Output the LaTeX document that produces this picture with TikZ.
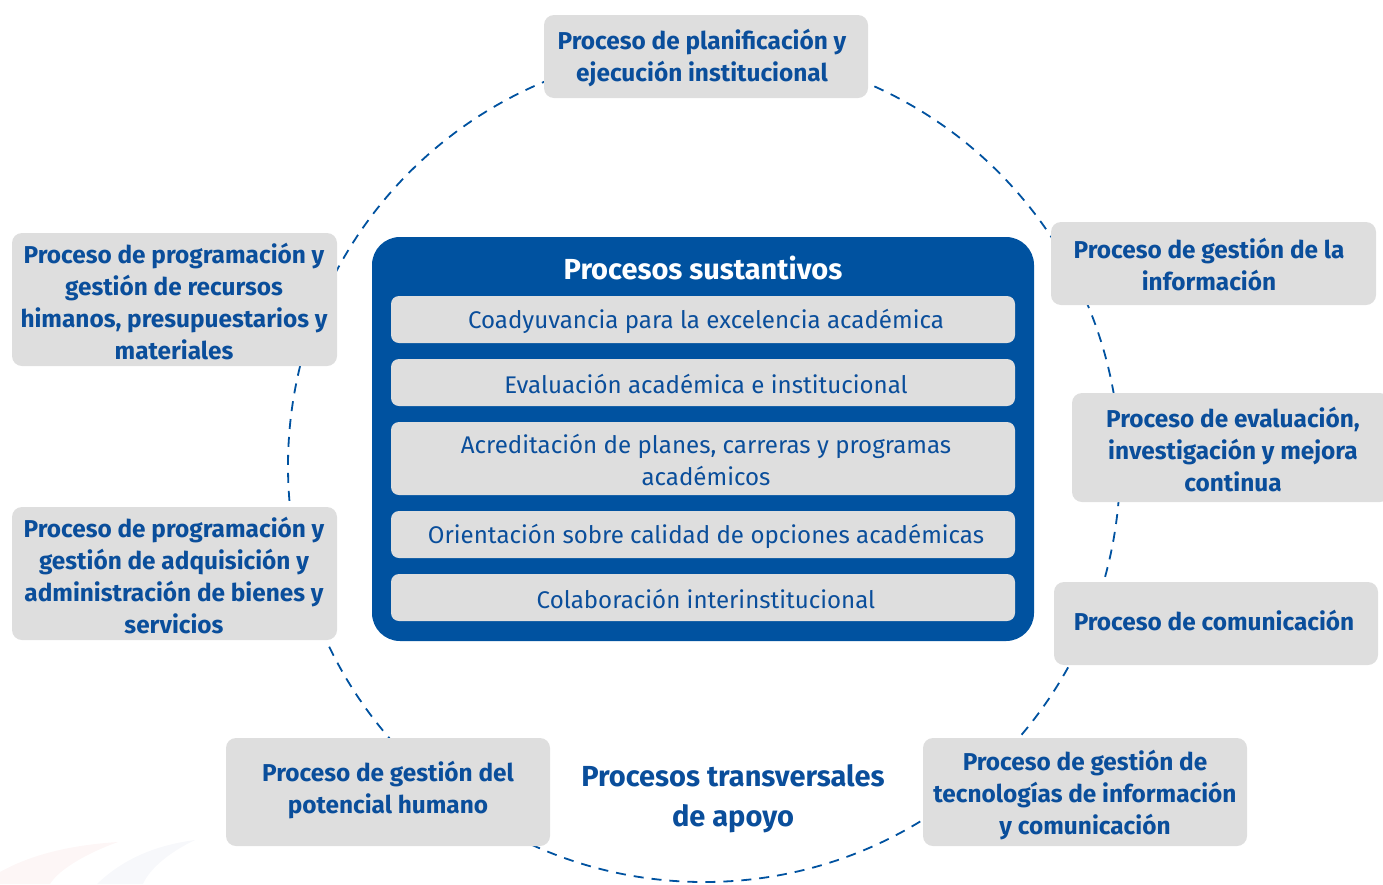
\documentclass[tikz,border=0pt]{standalone}
\usepackage{fontspec}
\setmainfont{Fira Sans}
\definecolor{ublue}{HTML}{0052A0}
\definecolor{tblue}{HTML}{0A4E9B}
\definecolor{boxgray}{HTML}{DEDEDE}
\definecolor{faintred}{HTML}{FDF6F6}
\definecolor{faintblue}{HTML}{F7F8FB}
\tikzset{
  graybox/.style={fill=boxgray, rounded corners=10pt, draw=none},
  graytext/.style={text=tblue, font=\fontsize{24.4}{32}\selectfont\bfseries, align=center},
  innerbox/.style={fill=boxgray, rounded corners=8pt, draw=none},
  innertext/.style={text=tblue, font=\fontsize{24.1}{32}\selectfont, align=center},
  circ/.style={draw=ublue, line width=1.8pt, dash pattern=on 10pt off 8pt},
}
\begin{document}
\begin{tikzpicture}[x=1pt,y=-1pt]
\useasboundingbox (0,0) rectangle (1383,884);
% faint decorative swoosh
\fill[faintred] (0,872) .. controls (30,855) and (70,845) .. (118,842) .. controls (90,852) and (60,868) .. (50,884) -- (0,884) -- cycle;
\fill[faintblue] (97,884) .. controls (120,862) and (150,846) .. (195,840) .. controls (170,852) and (150,868) .. (143,884) -- cycle;
% dashed circle
\coordinate (c) at (704,466);
\draw[circ] (c) circle[radius=416pt];
% outer boxes
\fill[graybox] (544,15) rectangle (868,98);
\node[graytext] (p1) at (702,58) {Proceso de planificación y\\ejecución institucional};
\fill[graybox] (1051,222) rectangle (1376,305);
\node[graytext] (p2) at (1209,265) {Proceso de gestión de la\\información};
\fill[graybox] (1072,393) rectangle (1390,502);
\node[graytext] (p3) at (1233,450) {Proceso de evaluación,\\investigación y mejora\\continua};
\fill[graybox] (1054,582) rectangle (1378,665);
\node[graytext] (p4) at (1214,621) {Proceso de comunicación};
\fill[graybox] (923,738) rectangle (1247,846);
\node[graytext] (p5) at (1085,795) {Proceso de gestión de\\tecnologías de información\\y comunicación};
\fill[graybox] (226,738) rectangle (550,846);
\node[graytext] (p6) at (388,790) {Proceso de gestión del\\potencial humano};
\fill[graybox] (12,507) rectangle (337,640);
\node[graytext] (p7) at (174,576) {Proceso de programación y\\gestión de adquisición y\\administración de bienes y\\servicios};
\fill[graybox] (12,233) rectangle (337,366);
\node[graytext] (p8) at (174,302) {Proceso de programación y\\gestión de recursos\\himanos, presupuestarios y\\materiales};
% central blue box
\fill[ublue, rounded corners=28pt] (372,237) rectangle (1034,641);
\node[text=white, font=\fontsize{29}{32}\selectfont\bfseries] (title) at (703,268) {Procesos sustantivos};
\fill[innerbox] (391,296) rectangle (1015,343);
\node[innertext] (s1) at (706,321) {Coadyuvancia para la excelencia académica};
\fill[innerbox] (391,359) rectangle (1015,406);
\node[innertext] (s2) at (706,384) {Evaluación académica e institucional};
\fill[innerbox] (391,422) rectangle (1015,495);
\node[innertext] (s3) at (706,460) {Acreditación de planes, carreras y programas\\académicos};
\fill[innerbox] (391,511) rectangle (1015,558);
\node[innertext] (s4) at (706,536) {Orientación sobre calidad de opciones académicas};
\fill[innerbox] (391,574) rectangle (1015,621);
\node[innertext] (s5) at (706,599) {Colaboración interinstitucional};
% bottom label
\node[text=tblue, font=\fontsize{29}{40}\selectfont\bfseries, align=center] (trans) at (733,799) {Procesos transversales\\de apoyo};
\end{tikzpicture}
\end{document}
